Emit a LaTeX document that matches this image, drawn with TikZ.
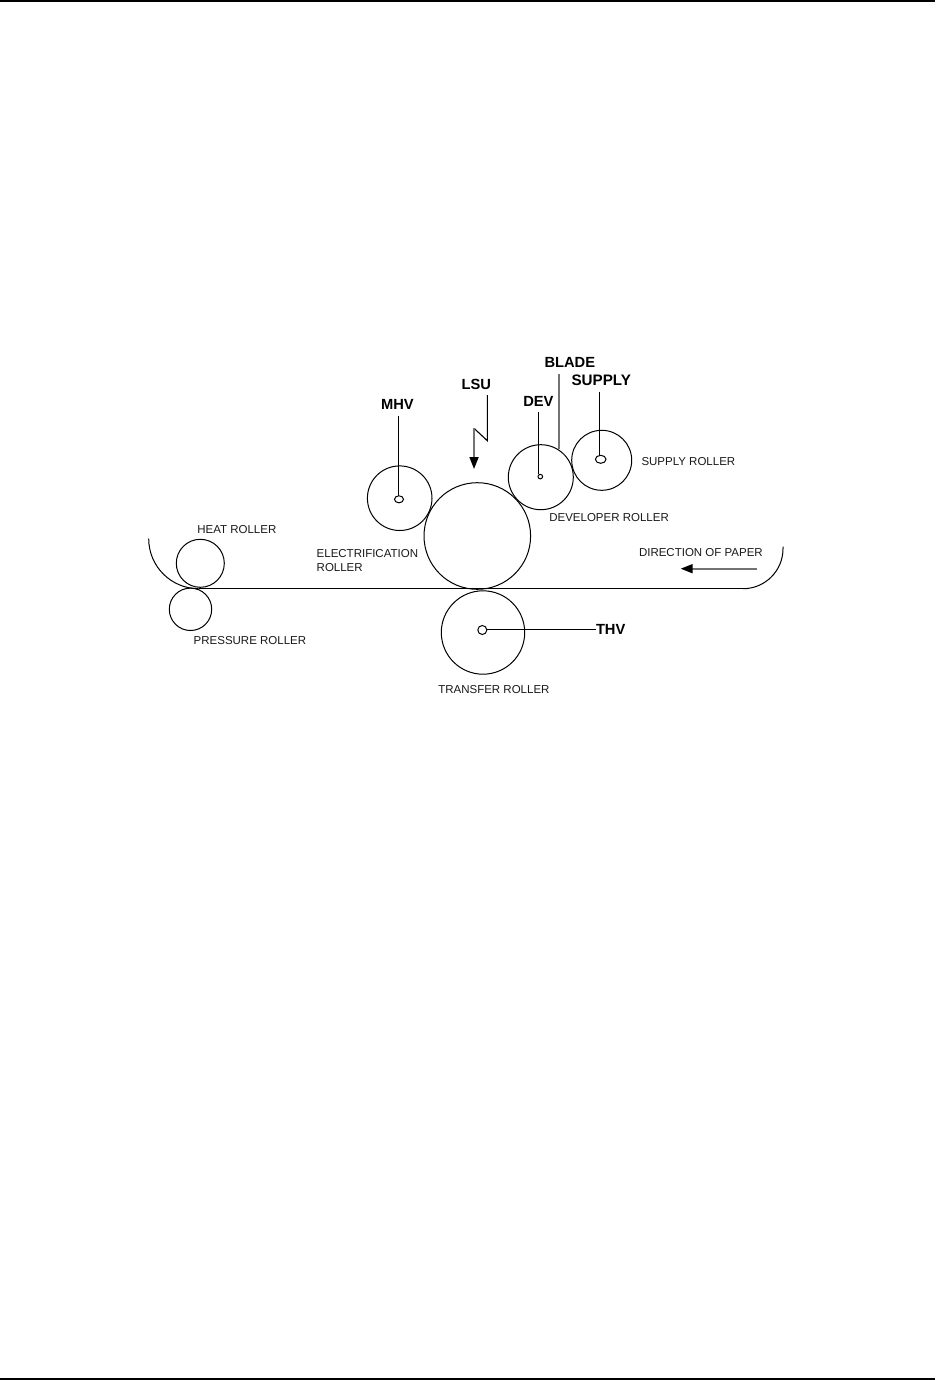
\documentclass[tikz,border=0pt]{standalone}
\usepackage{fontspec}
\setmainfont{Liberation Sans}
\usetikzlibrary{shapes.geometric,arrows.meta}
\tikzset{
  roller/.style={circle,draw,line width=1pt,inner sep=0pt,outer sep=0pt,minimum size=#1},
  hub/.style={ellipse,draw,line width=1pt,inner sep=0pt,outer sep=0pt,minimum width=#1},
  lbl/.style={anchor=base west,inner sep=0pt,outer sep=0pt,font=\fontsize{11.5pt}{12pt}\selectfont,text=black!90},
  sig/.style={anchor=base west,inner sep=0pt,outer sep=0pt,font=\fontsize{14.7pt}{16pt}\selectfont\bfseries},
  wire/.style={line width=1.1pt,line join=miter},
  greywire/.style={line width=1.7pt,draw=black!55},
  tip/.style={-{Triangle[length=12pt,width=9pt,color=black,fill=black]}},
  paperarc/.style={line width=1pt},
  paperline/.style={line width=1.4pt}
}
\begin{document}
\begin{tikzpicture}[x=1pt,y=-1pt]
\useasboundingbox (0,0) rectangle (935,1380);
\fill[black] (0,0) rectangle (935,1.8);
\fill[black] (0,1378) rectangle (935,1380);

% rollers
\node[roller=60pt] (supply) at (601.7,460.3) {};
\node[roller=65pt] (dev) at (540.8,477.2) {};
\node[roller=64.6pt] (mhv) at (399.7,498.2) {};
\node[roller=106.6pt] (elec) at (477.3,536) {};
\node[roller=48pt] (heat) at (200.3,563.3) {};
\node[roller=42.4pt] (press) at (190.5,609.3) {};
\node[roller=83.4pt] (trans) at (483,632.5) {};

% hubs
\node[hub=10.6pt,minimum height=8pt] (supplyhub) at (600.7,459.3) {};
\node[hub=4.6pt,minimum height=4.6pt] (devhub) at (540.3,476.6) {};
\node[hub=9pt,minimum height=7pt] (mhvhub) at (399,499.3) {};
\node[hub=9pt,minimum height=9pt] (transhub) at (482.3,630) {};

% signal labels
\node[sig] (tmhv) at (381,409) {MHV};
\node[sig] (tlsu) at (461.7,389.3) {LSU};
\node[sig] (tdev) at (523.3,406.7) {DEV};
\node[sig] (tblade) at (544.5,367.7) {BLADE};
\node[sig,font=\fontsize{15.2pt}{16pt}\selectfont\bfseries] (tsupply) at (571.5,385.7) {SUPPLY};
\node[sig] (tthv) at (596,634.3) {THV};

% roller labels
\node[lbl] (lsupply) at (641.5,465.3) {SUPPLY ROLLER};
\node[lbl] (ldev) at (549.3,521) {DEVELOPER ROLLER};
\node[lbl] (lheat) at (197.3,533.7) {HEAT ROLLER};
\node[lbl] (lelec) at (316.7,557.7) {ELECTRIFICATION};
\node[lbl] (lelec2) at (316.7,571) {ROLLER};
\node[lbl] (lpress) at (193.7,644.7) {PRESSURE ROLLER};
\node[lbl] (ldir) at (639,556.7) {DIRECTION OF PAPER};
\node[lbl] (ltrans) at (438.3,693) {TRANSFER ROLLER};

% connector ends
\coordinate (mhvtop) at (398.3,415.7);
\coordinate (devtop) at (538.3,412.3);
\coordinate (devend) at (538.3,474.3);
\coordinate (bladetop) at (559,374.3);
\coordinate (bladeend) at (559,449);
\coordinate (supplytop) at (599.3,391.7);
\coordinate (supplyend) at (599.3,455.4);
\coordinate (mhvend) at (398.3,495.8);
\coordinate (lsutop) at (487.3,395);
\coordinate (lsub) at (487.3,440.7);
\coordinate (lsuc) at (474,428.3);
\coordinate (lsutip) at (474,469);
\coordinate (dirtail) at (756.7,568.7);
\coordinate (dirtip) at (680.7,568.7);
\coordinate (thvend) at (595.5,629.7);
\coordinate (thvstart) at (486.8,629.7);
\coordinate (paperleft) at (198.7,588.7);
\coordinate (paperright) at (743,588.7);

\draw[wire] (mhvtop) -- (mhvend);
\draw[wire] (devtop) -- (devend);
\draw[greywire] (bladetop) -- (bladeend);
\draw[wire] (supplytop) -- (supplyend);
\draw[wire,line width=1.4pt] (thvstart) -- (thvend);
\draw[wire] (lsutop) -- (lsub) -- (lsuc);
\draw[greywire,tip] (lsuc) -- (lsutip);
\draw[greywire,tip] (dirtail) -- (dirtip);

% paper path
\draw[paperarc] (148.7,538.7) arc[start angle=180,end angle=270,radius=50pt];
\draw[paperline] (paperleft) -- (paperright);
\draw[paperarc] (paperright) arc[start angle=270,end angle=360,radius=40pt] -- (783,546.7);
\end{tikzpicture}
\end{document}
